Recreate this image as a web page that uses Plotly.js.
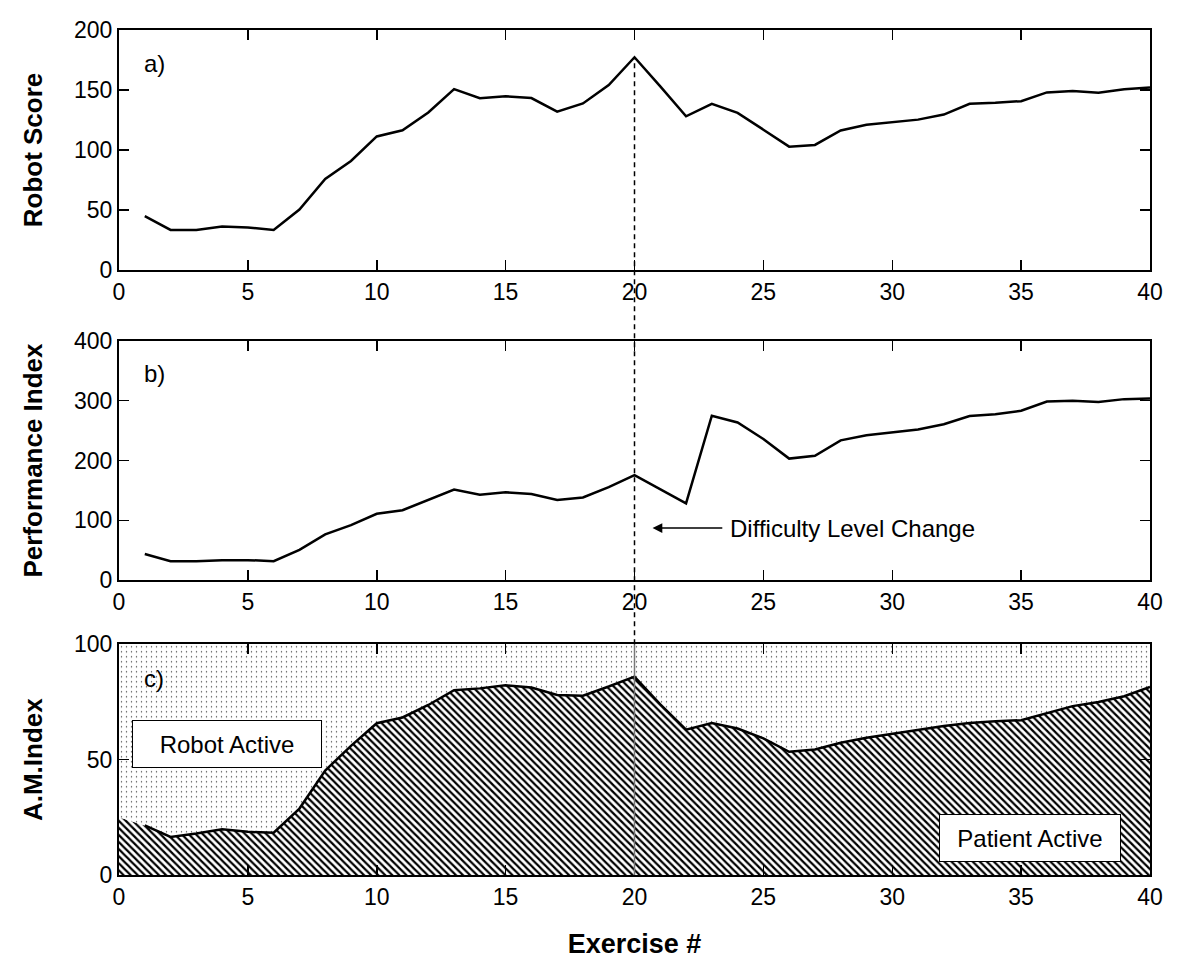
<!DOCTYPE html>
<html>
<head>
<meta charset="utf-8">
<script src="https://cdn.plot.ly/plotly-3.0.1.min.js"></script>
<style>
  html, body { margin: 0; padding: 0; background: #fff; }
  #chart { width: 1200px; height: 970px; }
</style>
</head>
<body>
<div id="chart"></div>
<script>
// ---- data ----
const exercise = [1,2,3,4,5,6,7,8,9,10,11,12,13,14,15,16,17,18,19,20,
                  21,22,23,24,25,26,27,28,29,30,31,32,33,34,35,36,37,38,39,40];
const robotScore = [44.8,33.4,33.4,36.3,35.4,33.4,50.4,75.9,90.9,111.3,
                    116.4,131.2,150.7,143.1,144.8,143.3,132,138.8,154.1,177.3,
                    153,128.1,138.5,130.9,116.9,102.8,104.2,116.3,121,123.3,
                    125.3,129.5,138.5,139.3,140.7,148,149.2,147.8,150.6,152];
const performanceIndex = [43.7,31.7,31.7,33.4,33.4,31.7,50.6,76.5,92,111,
                          116.8,134,151.4,142.7,146.8,143.9,134,138.1,155.4,175.5,
                          152,128.3,275,263.6,236,203.2,207.8,233.7,242.3,247.5,
                          252,260.7,274.5,277.4,283.2,298.7,299.9,298.1,302.7,303.9];
const amExercise = [0,1,2,3,4,5,6,7,8,9,10,11,12,13,14,15,16,17,18,19,20,
                    21,22,23,24,25,26,27,28,29,30,31,32,33,34,35,36,37,38,39,40];
const patientActive = [25,21.5,16.5,18,19.8,18.7,18.3,28.8,45.3,56,65.8,
                       68.3,73.7,80.1,80.9,82.2,81.3,78,77.7,81.7,86,
                       74,63,65.9,63.5,59.2,53.4,54.4,57.3,59.5,61.3,
                       63.1,64.6,65.9,66.7,67.1,70.3,73.2,75,77.5,81.5];
const changeExercise = 20;
const panelLabels = ['a)', 'b)', 'c)'];
const yTitles = ['Robot Score', 'Performance Index', 'A.M.Index'];
const xTitle = 'Exercise #';
const areaLabels = ['Robot Active', 'Patient Active'];
const changeLabel = 'Difficulty Level Change';

// robot share is the complement of patient share of the A.M. index (stacked to 100)
const robotActive = patientActive.map(v => 100 - v);

const FONT = 'Liberation Sans, Arial, sans-serif';
const domA = [0.716, 1.0], domB = [0.349, 0.632], domC = [0.0, 0.273];
const rangeA = [0, 200], rangeB = [0, 400], rangeC = [0, 100];
function toPaper(dom, rng, v) { return dom[0] + (dom[1] - dom[0]) * (v - rng[0]) / (rng[1] - rng[0]); }

const traces = [
  { x: exercise, y: robotScore, xaxis: 'x', yaxis: 'y', mode: 'lines',
    line: { color: '#000', width: 2.5 }, showlegend: false, hoverinfo: 'skip' },
  { x: exercise, y: performanceIndex, xaxis: 'x2', yaxis: 'y2', mode: 'lines',
    line: { color: '#000', width: 2.5 }, showlegend: false, hoverinfo: 'skip' },
  { x: amExercise, y: patientActive, xaxis: 'x3', yaxis: 'y3', mode: 'lines',
    stackgroup: 'am', line: { width: 0, color: '#000' },
    fillpattern: { shape: '\\', size: 5, solidity: 0.45, fgcolor: '#000', bgcolor: '#fff', fillmode: 'replace' },
    fillcolor: '#fff', showlegend: false, hoverinfo: 'skip' },
  { x: amExercise, y: robotActive, xaxis: 'x3', yaxis: 'y3', mode: 'lines',
    stackgroup: 'am', line: { width: 0, color: '#000' },
    fillpattern: { shape: '.', size: 5, solidity: 0.06, fgcolor: '#444', bgcolor: '#fff', fillmode: 'replace' },
    fillcolor: '#fff', showlegend: false, hoverinfo: 'skip' },
  { x: amExercise.slice(1), y: patientActive.slice(1), xaxis: 'x3', yaxis: 'y3', mode: 'lines',
    line: { color: '#000', width: 2.5 }, showlegend: false, hoverinfo: 'skip' }
];

function xax(anchor, dom, title) {
  const a = {
    anchor: anchor, domain: [0, 1], range: [0, 40], dtick: 5, tick0: 0,
    ticks: 'inside', ticklen: 10, tickwidth: 1.5, tickcolor: '#000',
    showline: true, linecolor: '#000', linewidth: 2, mirror: 'ticks',
    showgrid: false, zeroline: false,
    tickfont: { family: FONT, size: 23, color: '#000' }
  };
  if (title) a.title = { text: title, font: { family: FONT, size: 27, color: '#000', weight: 'bold' }, standoff: 26 };
  return a;
}
function yax(anchor, dom, rng, dt, title) {
  return {
    anchor: anchor, domain: dom, range: rng, dtick: dt, tick0: 0,
    ticks: 'inside', ticklen: 10, tickwidth: 1.5, tickcolor: '#000',
    showline: true, linecolor: '#000', linewidth: 2, mirror: 'ticks',
    showgrid: false, zeroline: false,
    tickfont: { family: FONT, size: 23, color: '#000' },
    title: { text: title, font: { family: FONT, size: 26, color: '#000', weight: 'bold' }, standoff: 24 }
  };
}

const peakIdx = exercise.indexOf(changeExercise);
const annFont = { family: FONT, size: 24, color: '#000' };

const layout = {
  width: 1200, height: 970,
  margin: { l: 119, r: 50, t: 30, b: 95 },
  paper_bgcolor: '#fff', plot_bgcolor: '#fff',
  showlegend: false,
  xaxis: xax('y', domA),
  xaxis2: xax('y2', domB),
  xaxis3: xax('y3', domC, xTitle),
  yaxis: yax('x', domA, rangeA, 50, yTitles[0]),
  yaxis2: yax('x2', domB, rangeB, 100, yTitles[1]),
  yaxis3: yax('x3', domC, rangeC, 50, yTitles[2]),
  shapes: [
    { type: 'line', xref: 'x', yref: 'paper', x0: changeExercise, x1: changeExercise,
      y0: domC[1], y1: toPaper(domA, rangeA, robotScore[peakIdx]),
      line: { color: '#000', width: 1.5, dash: '5px,4px' } },
    { type: 'line', xref: 'x3', yref: 'y3 domain', x0: changeExercise, x1: changeExercise,
      y0: 0, y1: 1, line: { color: '#777', width: 1.5 } }
  ],
  annotations: [
    { xref: 'x', yref: 'y', x: 0.9, y: 172, text: panelLabels[0], showarrow: false, xanchor: 'left', font: annFont },
    { xref: 'x2', yref: 'y2', x: 0.9, y: 346, text: panelLabels[1], showarrow: false, xanchor: 'left', font: annFont },
    { xref: 'x3', yref: 'y3', x: 0.9, y: 85, text: panelLabels[2], showarrow: false, xanchor: 'left', font: annFont },
    { xref: 'x3', yref: 'y3', x: 4.2, y: 57, text: areaLabels[0], showarrow: false,
      width: 182, height: 40, borderpad: 3, bgcolor: '#fff', bordercolor: '#000', borderwidth: 1, font: annFont },
    { xref: 'x3', yref: 'y3', x: 35.35, y: 16, text: areaLabels[1], showarrow: false,
      width: 174, height: 40, borderpad: 3, bgcolor: '#fff', bordercolor: '#000', borderwidth: 1, font: annFont },
    { xref: 'x2', yref: 'y2', x: 20.7, y: 87, axref: 'x2', ayref: 'y2', ax: 28.45, ay: 87,
      text: changeLabel, showarrow: true, arrowhead: 2, arrowsize: 1.3, arrowwidth: 1.5, arrowcolor: '#000',
      standoff: 0, startstandoff: 6, font: annFont }
  ]
};

Plotly.newPlot('chart', traces, layout, { staticPlot: true, displayModeBar: false });
</script>
</body>
</html>
